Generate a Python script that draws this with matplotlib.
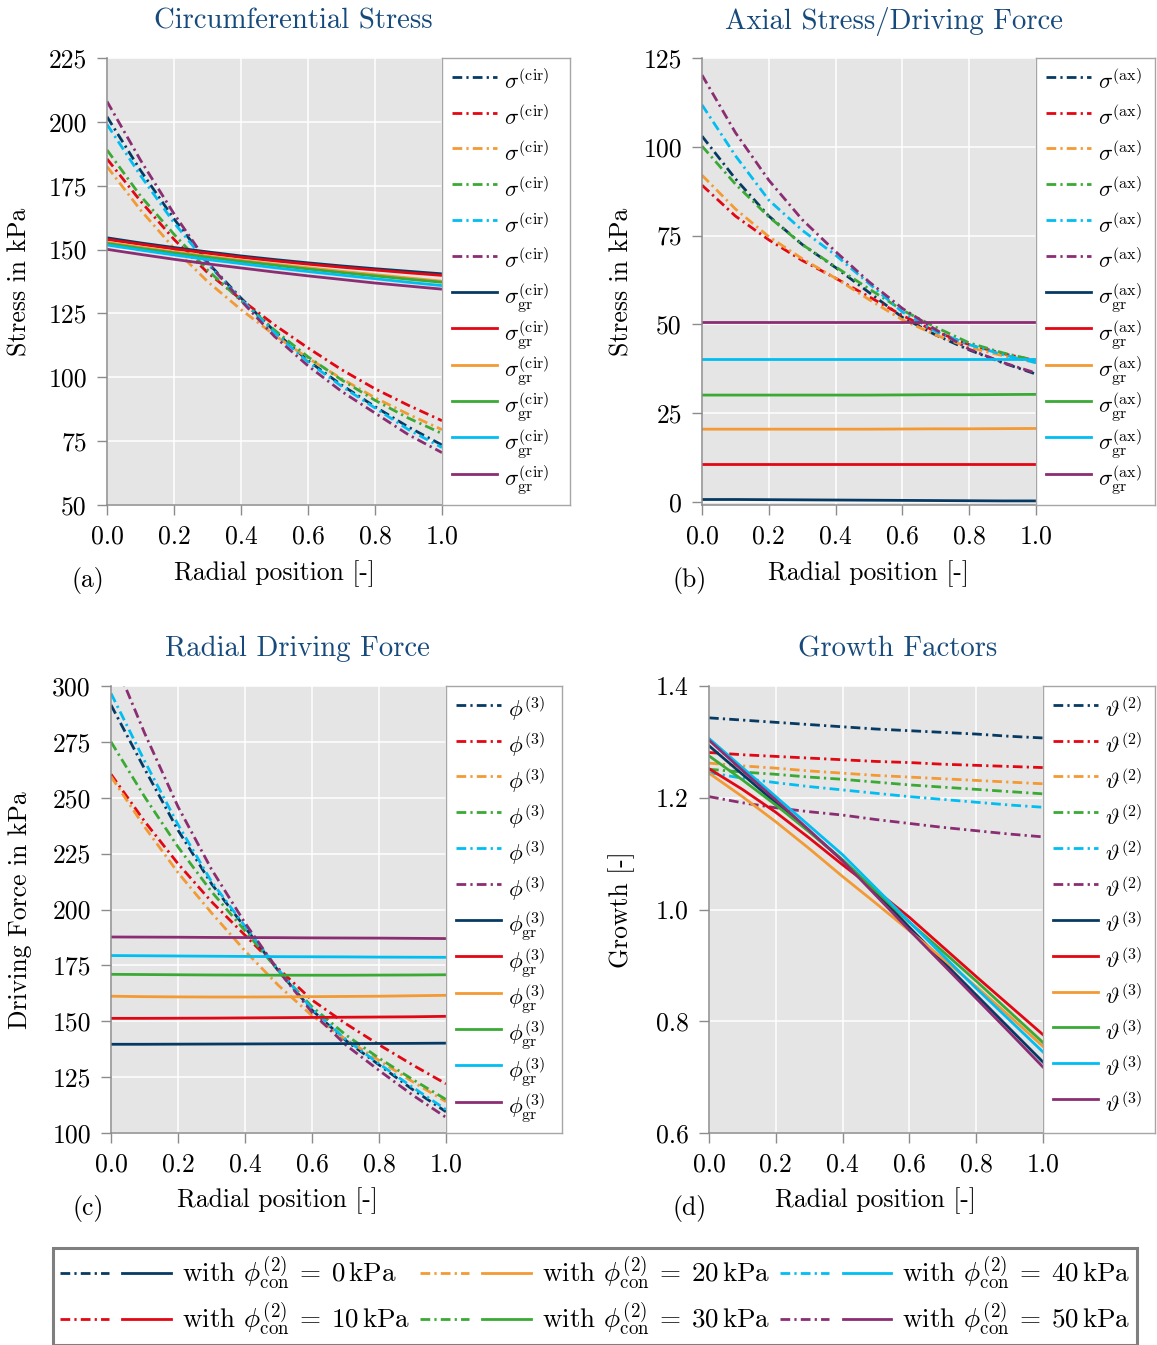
import matplotlib
matplotlib.use("Agg")
import matplotlib.pyplot as plt
from matplotlib.lines import Line2D
from matplotlib.legend_handler import HandlerTuple
from matplotlib.ticker import FormatStrFormatter

plt.rcParams["font.family"] = "cmr10"
plt.rcParams["mathtext.fontset"] = "cm"
plt.rcParams["axes.formatter.use_mathtext"] = True
plt.rcParams["lines.scale_dashes"] = False

# radial position (same grid for every curve)
r = [0.0, 0.1, 0.2, 0.3, 0.4, 0.5, 0.6, 0.7, 0.8, 0.9, 1.0]

phi_con = [0, 10, 20, 30, 40, 50]
colors = ["#073a63", "#e30613", "#f39a34", "#3aaa35", "#00bef2", "#8b2d72"]

# (a) circumferential stress in kPa, one row per phi_con
sig_cir = [
    [202, 181, 162, 145, 131, 118, 106.5, 97, 88.5, 80.5, 73.5],
    [185.5, 169, 154, 141, 130.5, 120.5, 111.5, 103, 95.5, 89, 83],
    [182.5, 165.5, 150.5, 137.5, 126.5, 116.5, 107.5, 99.5, 92, 85.5, 79.5],
    [189, 171, 156, 142, 130, 118.5, 108, 99, 91, 84, 78],
    [199, 179, 160.5, 144.5, 130.5, 117.5, 106, 96.5, 88, 79.5, 72.5],
    [208, 185, 164, 145, 130, 116, 104.5, 94.5, 86, 77.5, 70.5],
]
sig_cir_gr = [
    [154.6, 152.6, 150.8, 149.1, 147.5, 146.1, 144.8, 143.6, 142.5, 141.5, 140.5],
    [154.0, 152.1, 150.3, 148.6, 147.0, 145.6, 144.3, 143.1, 142.0, 140.9, 139.9],
    [152.8, 150.9, 149.1, 147.4, 145.8, 144.3, 142.9, 141.5, 140.2, 138.9, 137.6],
    [152.4, 150.5, 148.7, 147.0, 145.4, 143.9, 142.4, 141.0, 139.7, 138.4, 137.2],
    [151.8, 149.8, 147.9, 146.1, 144.5, 142.9, 141.4, 140.0, 138.6, 137.2, 135.9],
    [150.1, 148.1, 146.2, 144.4, 142.8, 141.2, 139.7, 138.3, 136.9, 135.7, 134.5],
]

# (b) axial stress / driving force in kPa
sig_ax = [
    [103, 91, 80.5, 72.5, 66, 59, 52, 47, 42.8, 39.2, 36],
    [89.2, 80.5, 73.8, 68, 63, 57.8, 52.5, 48, 44.3, 41.8, 39.8],
    [92, 82.5, 74.7, 68.5, 63, 57, 51.3, 47, 43.5, 41.2, 39.3],
    [100.2, 89.5, 80.3, 72.5, 66.2, 60, 54, 49.2, 44.8, 42, 39.8],
    [111.8, 97.5, 85, 76.5, 69.5, 61.5, 53.5, 48, 44.3, 41.5, 39.2],
    [120.2, 104, 90.6, 79.5, 70.5, 62, 54.5, 48.5, 43, 39.3, 36.3],
]
sig_ax_gr = [
    [0.7, 0.7, 0.65, 0.6, 0.55, 0.5, 0.45, 0.4, 0.35, 0.3, 0.3],
    [10.6, 10.6, 10.6, 10.6, 10.6, 10.6, 10.6, 10.6, 10.6, 10.6, 10.6],
    [20.5, 20.5, 20.5, 20.5, 20.5, 20.5, 20.55, 20.6, 20.6, 20.65, 20.7],
    [30.1, 30.1, 30.1, 30.1, 30.1, 30.1, 30.15, 30.2, 30.2, 30.25, 30.3],
    [40.3, 40.3, 40.3, 40.3, 40.3, 40.3, 40.3, 40.3, 40.3, 40.3, 40.3],
    [50.8, 50.8, 50.8, 50.8, 50.8, 50.8, 50.8, 50.8, 50.8, 50.8, 50.8],
]

# (c) radial driving force in kPa
phi3 = [
    [291.5, 263, 235.5, 211.5, 192, 172.5, 155, 141.5, 130.5, 119.5, 109.5],
    [260.5, 239.5, 220.5, 203.5, 188.5, 173.5, 159.5, 149, 139.5, 130.5, 122],
    [259.5, 237, 216.5, 198.5, 181.5, 166, 152.5, 142, 132.5, 123, 114],
    [275, 250.5, 228, 208, 190.5, 172.5, 156.5, 144, 133.5, 124, 115],
    [296.7, 266.5, 238, 212.5, 192.5, 173, 155.5, 142, 131, 120.5, 110.5],
    [315, 279, 246, 218, 194, 172.5, 154, 139.5, 128, 117, 107],
]
phi3_gr = [
    [139.7, 139.7, 139.75, 139.8, 139.85, 139.9, 139.95, 140.0, 140.05, 140.1, 140.2],
    [151.3, 151.3, 151.35, 151.4, 151.5, 151.6, 151.7, 151.8, 151.9, 152.0, 152.2],
    [161.2, 161.0, 160.9, 160.85, 160.85, 160.9, 161.0, 161.1, 161.2, 161.4, 161.6],
    [171.0, 170.9, 170.8, 170.7, 170.65, 170.6, 170.6, 170.6, 170.65, 170.7, 170.8],
    [179.4, 179.3, 179.2, 179.1, 179.0, 178.9, 178.85, 178.8, 178.7, 178.65, 178.6],
    [187.7, 187.65, 187.6, 187.5, 187.45, 187.4, 187.3, 187.25, 187.2, 187.1, 187.0],
]

# (d) growth factors
theta2 = [
    [1.343, 1.339, 1.335, 1.331, 1.327, 1.323, 1.320, 1.317, 1.314, 1.310, 1.307],
    [1.281, 1.277, 1.274, 1.271, 1.268, 1.265, 1.263, 1.260, 1.258, 1.256, 1.254],
    [1.262, 1.257, 1.253, 1.248, 1.244, 1.240, 1.237, 1.234, 1.231, 1.228, 1.225],
    [1.251, 1.246, 1.242, 1.237, 1.233, 1.228, 1.223, 1.219, 1.215, 1.211, 1.207],
    [1.245, 1.235, 1.227, 1.220, 1.214, 1.208, 1.202, 1.197, 1.192, 1.187, 1.183],
    [1.202, 1.191, 1.182, 1.175, 1.169, 1.161, 1.154, 1.147, 1.141, 1.135, 1.130],
]
theta3 = [
    [1.293, 1.242, 1.191, 1.140, 1.088, 1.030, 0.968, 0.907, 0.847, 0.787, 0.727],
    [1.252, 1.215, 1.174, 1.128, 1.080, 1.034, 0.986, 0.933, 0.880, 0.828, 0.776],
    [1.244, 1.202, 1.157, 1.109, 1.059, 1.011, 0.962, 0.912, 0.862, 0.809, 0.755],
    [1.275, 1.232, 1.187, 1.139, 1.089, 1.033, 0.977, 0.925, 0.872, 0.817, 0.762],
    [1.306, 1.254, 1.202, 1.150, 1.098, 1.038, 0.978, 0.918, 0.859, 0.802, 0.745],
    [1.303, 1.249, 1.196, 1.142, 1.087, 1.025, 0.963, 0.902, 0.841, 0.780, 0.718],
]

W, H = 1157, 1345
fig = plt.figure(figsize=(W / 100, H / 100), dpi=100)

DASH = (7, 3, 1.6, 3)
LW = 2.0
TITLE_C = "#174a7c"
SPINE_C = "#8c8c8c"
LEG_FS = 16.5


def box(x0, y0, x1, y1):
    return [x0 / W, 1 - y1 / H, (x1 - x0) / W, (y1 - y0) / H]


def put(x, y, s, **kw):
    fig.text(x / W, 1 - y / H, s, ha="center", va="center", **kw)


def panel(ax_px, leg_px, dd, gr, dd_lab, gr_lab, ylim, yticks, yfmt):
    ax = fig.add_axes(box(*ax_px))
    ax.set_facecolor("#e5e5e5")
    handles = []
    for c, y in zip(colors, dd):
        handles += ax.plot(r, y, color=c, lw=LW, dashes=DASH, label=dd_lab)
    for c, y in zip(colors, gr):
        handles += ax.plot(r, y, color=c, lw=LW, label=gr_lab)
    ax.set_xlim(0, 1)
    ax.set_ylim(*ylim)
    ax.set_xticks([0, 0.2, 0.4, 0.6, 0.8, 1.0])
    ax.set_yticks(yticks)
    ax.xaxis.set_major_formatter(FormatStrFormatter("%.1f"))
    ax.yaxis.set_major_formatter(FormatStrFormatter(yfmt))
    ax.grid(True, color="white", lw=1.1)
    ax.set_axisbelow(True)
    for s in ["top", "right"]:
        ax.spines[s].set_visible(False)
    for s in ["left", "bottom"]:
        ax.spines[s].set_color(SPINE_C)
        ax.spines[s].set_linewidth(1.1)
    ax.tick_params(direction="out", length=7.5, width=1, color=SPINE_C,
                   labelsize=18.5, pad=7)

    # legend box to the right of the plot, rows of equal height
    lax = fig.add_axes(box(*leg_px))
    lax.set_xticks([])
    lax.set_yticks([])
    for s in lax.spines.values():
        s.set_color("#a6a6a6")
        s.set_linewidth(1)
    w = leg_px[2] - leg_px[0]
    lax.legend(handles, [h.get_label() for h in handles], loc="upper left",
               bbox_to_anchor=(4 / w, 1), frameon=False, fontsize=LEG_FS,
               handlelength=1.95, handleheight=2.0, handletextpad=0.3,
               borderaxespad=0, borderpad=0.27, labelspacing=0.02)
    return ax


panel((107, 58, 442, 505), (442, 58, 570, 505), sig_cir, sig_cir_gr,
      r"$\sigma^{(\mathrm{cir})}$", r"$\sigma^{(\mathrm{cir})}_{\mathrm{gr}}$",
      (50, 225), [50, 75, 100, 125, 150, 175, 200, 225], "%d")
panel((702, 58, 1036, 505), (1036, 58, 1155, 505), sig_ax, sig_ax_gr,
      r"$\sigma^{(\mathrm{ax})}$", r"$\sigma^{(\mathrm{ax})}_{\mathrm{gr}}$",
      (-0.85, 125), [0, 25, 50, 75, 100, 125], "%d")
panel((111, 686, 446, 1133), (446, 686, 562, 1133), phi3, phi3_gr,
      r"$\phi^{(3)}$", r"$\phi^{(3)}_{\mathrm{gr}}$",
      (100, 300), [100, 125, 150, 175, 200, 225, 250, 275, 300], "%d")
panel((709, 686, 1043, 1133), (1043, 686, 1155, 1133), theta2, theta3,
      r"$\vartheta^{(2)}$", r"$\vartheta^{(3)}$",
      (0.6, 1.4), [0.6, 0.8, 1.0, 1.2, 1.4], "%.1f")

# titles, axis labels and panel tags
put(293, 21, "Circumferential Stress", fontsize=20.7, color=TITLE_C)
put(894, 21, "Axial Stress/Driving Force", fontsize=20.7, color=TITLE_C)
put(297, 649, "Radial Driving Force", fontsize=20.7, color=TITLE_C)
put(898, 649, "Growth Factors", fontsize=20.7, color=TITLE_C)

for x, y in [(274, 574), (868, 574), (277, 1201), (875, 1201)]:
    put(x, y, "Radial position [-]", fontsize=18.5)
for x, y, t in [(88, 580, "(a)"), (690, 580, "(b)"), (88, 1208, "(c)"), (690, 1208, "(d)")]:
    put(x, y, t, fontsize=18.5)
put(20, 282, "Stress in kPa", fontsize=18.5, rotation=90)
put(622, 282, "Stress in kPa", fontsize=18.5, rotation=90)
put(20, 910, "Driving Force in kPa", fontsize=18.5, rotation=90)
put(622, 910, "Growth [-]", fontsize=18.5, rotation=90)

# shared legend at the bottom
pairs, labels = [], []
for c, p in zip(colors, phi_con):
    pairs.append((Line2D([], [], color=c, lw=LW, dashes=DASH),
                  Line2D([], [], color=c, lw=LW)))
    labels.append(r"with $\phi^{(2)}_{\mathrm{con}}\:=\:" + str(p) + r"\,\mathrm{kPa}$")
b = box(53, 1250, 1137, 1343)
leg = fig.legend(pairs, labels, ncol=3, loc="center", bbox_to_anchor=b,
                 mode="expand", borderaxespad=0, fancybox=False,
                 edgecolor="#7f7f7f", fontsize=19.5, framealpha=1,
                 handler_map={tuple: HandlerTuple(ndivide=None, pad=0.5)},
                 handlelength=4.1, handletextpad=0.4, borderpad=0.25,
                 labelspacing=0.3, columnspacing=0.5)
leg.get_frame().set_linewidth(2.2)

fig.savefig("out.png", dpi=100)
